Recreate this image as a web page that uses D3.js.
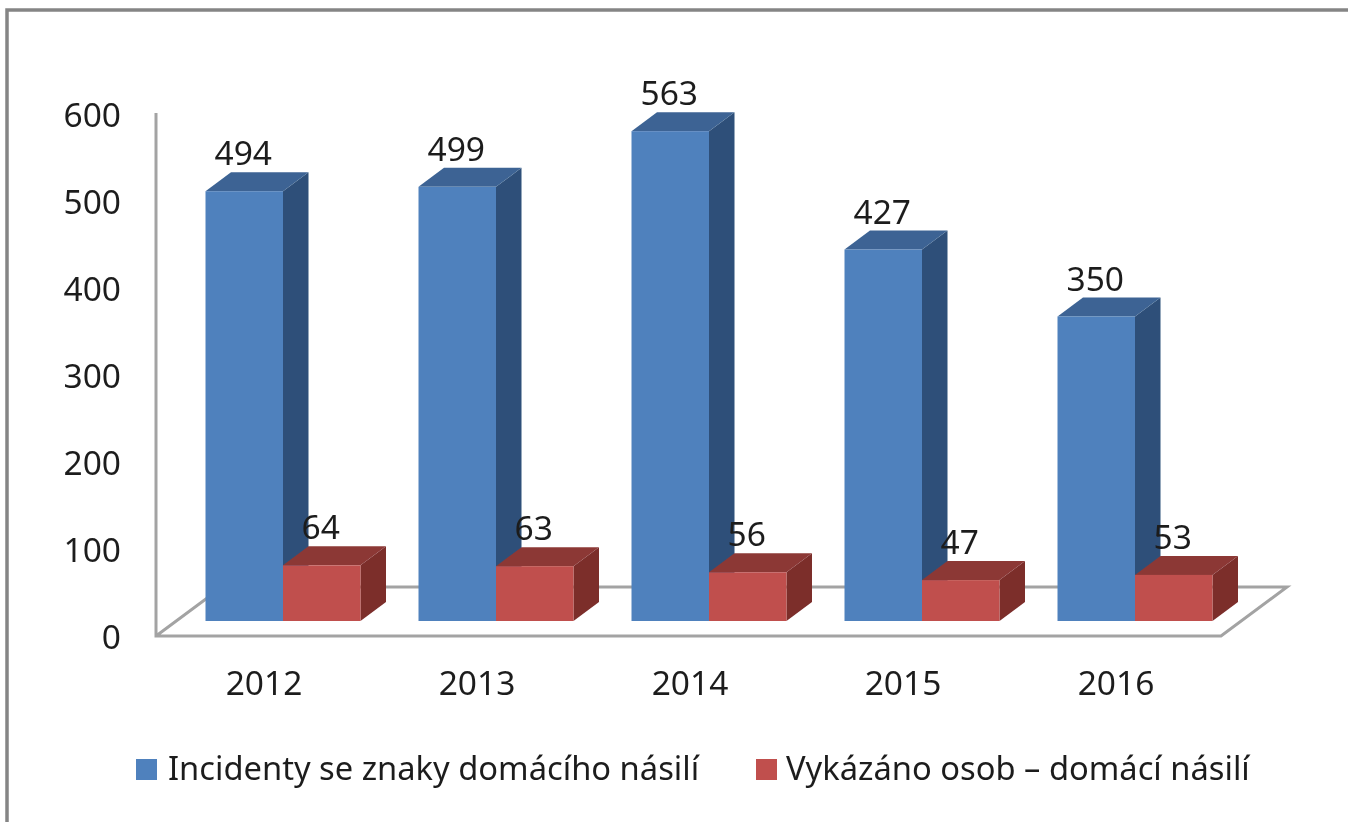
<!DOCTYPE html>
<html><head><meta charset="utf-8">
<script src="https://cdn.jsdelivr.net/npm/d3@7"></script>
<style>
html,body{margin:0;padding:0;background:#fff;overflow:hidden}
svg{display:block}
text{font-family:"Noto Sans",sans-serif;fill:#1f1f1f}
</style></head><body>
<svg id="c" width="1348" height="822"></svg>
<script>
const years = ["2012","2013","2014","2015","2016"];
const seriesNames = ["Incidenty se znaky domácího násilí","Vykázáno osob – domácí násilí"];
const incidents = [494,499,563,427,350];
const persons = [64,63,56,47,53];
const yTicks = [0,100,200,300,400,500,600];
const faceColors = [["#4f81bd","#3c6494","#2f5079"],["#c0504d","#8c3836","#7b2e2c"]];

const svg = d3.select("#c");
const defs = svg.append("defs");
defs.append("filter").attr("id","soft").attr("x","-5%").attr("y","-5%").attr("width","110%").attr("height","110%")
  .append("feGaussianBlur").attr("stdDeviation",0.7);
const root = svg.append("g").attr("filter","url(#soft)");

const numFont = 33.5, legendFont = 32.7;
const depthX = 25.5, depthY = 19;
const axisX = 156, axisY = 636, floorFrontY = 621, floorDX = 66, floorDY = 49, floorRight = 1221;
const y = d3.scaleLinear().domain([0,600]).range([axisY, axisY-522]);
const x0 = d3.scaleBand().domain(years).range([176.5,1241.5]);
const x1 = d3.scaleBand().domain([0,1]).range([x0.bandwidth()/2-77.5, x0.bandwidth()/2+77.5]);
const barH = v => axisY - y(v);

// outer frame
root.append("path").attr("d","M7,822V10H1348").attr("fill","none").attr("stroke","#858585").attr("stroke-width",3.5);

// floor and wall lines
const line = d3.line();
root.append("path").attr("d",line([[axisX,113],[axisX,axisY],[floorRight,axisY],[floorRight+floorDX,axisY-floorDY],[axisX+floorDX,axisY-floorDY],[axisX,axisY]]))
  .attr("fill","none").attr("stroke","#a3a3a3").attr("stroke-width",3).attr("stroke-linejoin","miter");

// value axis
const yAxis = root.append("g").attr("transform",`translate(129,0)`)
  .call(d3.axisLeft(y).tickValues(yTicks).tickSize(0).tickPadding(8));
yAxis.select(".domain").remove();
yAxis.selectAll("text").attr("font-size",numFont).attr("dy","0.36em").style("font-family",'"Noto Sans",sans-serif');

// category axis
const xAxis = root.append("g").attr("transform",`translate(-19,695)`)
  .call(d3.axisBottom(x0).tickSize(0).tickPadding(0));
xAxis.select(".domain").remove();
xAxis.selectAll("text").attr("font-size",numFont).attr("dy",0).attr("y",0).style("font-family",'"Noto Sans",sans-serif');

// bars
const groups = root.selectAll("g.year").data(years).join("g").attr("class","year")
  .attr("transform",d=>`translate(${x0(d)},0)`);
groups.each(function(yr,i){
  const g = d3.select(this);
  [incidents[i],persons[i]].forEach((v,s)=>{
    const l = x1(s), r = l + x1.bandwidth(), b = floorFrontY, t = b - barH(v);
    const [front,top,side] = faceColors[s];
    g.append("path").attr("fill",side).attr("d",line([[r,b],[r+depthX,b-depthY],[r+depthX,t-depthY],[r,t]])+"Z");
    g.append("path").attr("fill",top).attr("d",line([[l,t],[l+depthX,t-depthY],[r+depthX,t-depthY],[r,t]])+"Z");
    g.append("rect").attr("fill",front).attr("x",l).attr("y",t).attr("width",r-l).attr("height",b-t);
  });
});
groups.each(function(yr,i){
  const g = d3.select(this);
  [incidents[i],persons[i]].forEach((v,s)=>{
    g.append("text").attr("x",x1(s)+x1.bandwidth()/2-1).attr("y",floorFrontY-barH(v)-26)
      .attr("text-anchor","middle").attr("font-size",numFont).text(v);
  });
});

// legend
const legendX = [136,756];
seriesNames.forEach((n,i)=>{
  root.append("rect").attr("x",legendX[i]).attr("y",759).attr("width",21).attr("height",21).attr("fill",faceColors[i][0]);
  root.append("text").attr("x",legendX[i]+(i?30:32)).attr("y",780).attr("font-size",legendFont).text(n);
});
</script>
</body></html>
